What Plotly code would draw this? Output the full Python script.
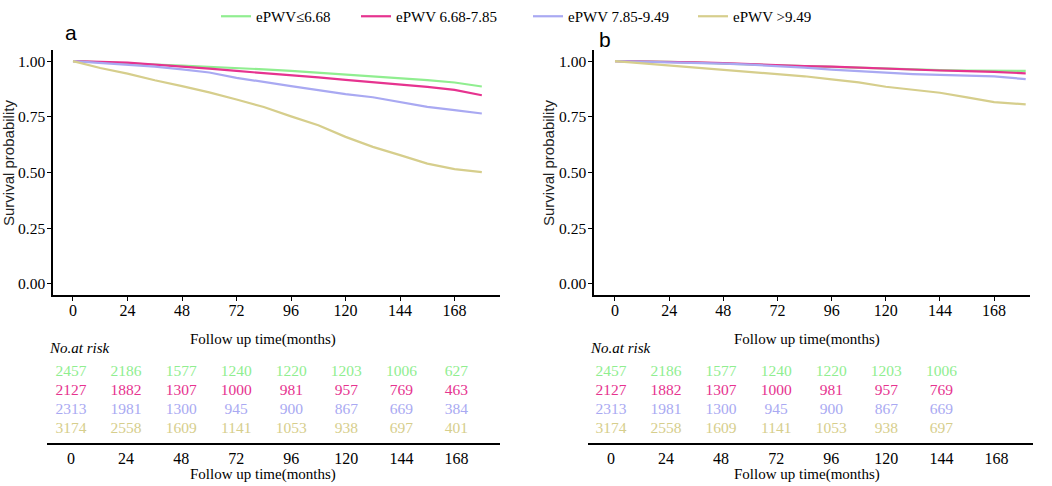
import plotly.graph_objects as go

# ---------------- data ----------------
group_names = ["ePWV≤6.68", "ePWV 6.68-7.85", "ePWV 7.85-9.49", "ePWV >9.49"]
group_colors = ["#90EE90", "#E6338F", "#A9A9F2", "#D6CE8C"]

months_a = [0, 12, 24, 36, 48, 60, 72, 84, 96, 108, 120, 132, 144, 156, 168, 180]
surv_a_g1 = [1.000, 0.996, 0.991, 0.985, 0.980, 0.975, 0.970, 0.963, 0.956, 0.948, 0.941, 0.934, 0.925, 0.915, 0.904, 0.886]
surv_a_g2 = [1.000, 0.997, 0.993, 0.984, 0.976, 0.966, 0.956, 0.947, 0.937, 0.927, 0.916, 0.906, 0.895, 0.884, 0.871, 0.847]
surv_a_g3 = [1.000, 0.992, 0.985, 0.975, 0.963, 0.949, 0.925, 0.905, 0.888, 0.870, 0.852, 0.838, 0.818, 0.795, 0.780, 0.765]
surv_a_g4 = [1.000, 0.969, 0.944, 0.914, 0.888, 0.860, 0.828, 0.794, 0.752, 0.712, 0.660, 0.615, 0.578, 0.540, 0.515, 0.502]

months_b = [0, 12, 24, 36, 48, 60, 72, 84, 96, 108, 120, 132, 144, 156, 168, 182]
surv_b_g1 = [1.000, 0.999, 0.997, 0.993, 0.990, 0.986, 0.982, 0.978, 0.974, 0.970, 0.966, 0.963, 0.960, 0.958, 0.957, 0.956]
surv_b_g2 = [1.000, 0.999, 0.997, 0.994, 0.991, 0.986, 0.982, 0.978, 0.975, 0.970, 0.966, 0.962, 0.958, 0.955, 0.952, 0.945]
surv_b_g3 = [1.000, 0.998, 0.996, 0.994, 0.989, 0.984, 0.978, 0.971, 0.962, 0.955, 0.947, 0.942, 0.938, 0.935, 0.932, 0.919]
surv_b_g4 = [1.000, 0.990, 0.980, 0.972, 0.962, 0.951, 0.942, 0.932, 0.918, 0.905, 0.885, 0.873, 0.858, 0.837, 0.816, 0.806]

risk_times_a = [0, 24, 48, 72, 96, 120, 144, 168]
risk_a_g1 = [2457, 2186, 1577, 1240, 1220, 1203, 1006, 627]
risk_a_g2 = [2127, 1882, 1307, 1000, 981, 957, 769, 463]
risk_a_g3 = [2313, 1981, 1300, 945, 900, 867, 669, 384]
risk_a_g4 = [3174, 2558, 1609, 1141, 1053, 938, 697, 401]

risk_times_b = [0, 24, 48, 72, 96, 120, 144]
risk_b_g1 = [2457, 2186, 1577, 1240, 1220, 1203, 1006]
risk_b_g2 = [2127, 1882, 1307, 1000, 981, 957, 769]
risk_b_g3 = [2313, 1981, 1300, 945, 900, 867, 669]
risk_b_g4 = [3174, 2558, 1609, 1141, 1053, 938, 697]

x_ticks = [0, 24, 48, 72, 96, 120, 144, 168]
y_ticks = [0, 0.25, 0.5, 0.75, 1.0]
y_ticktext = ["0.00", "0.25", "0.50", "0.75", "1.00"]

# ---------------- layout helpers ----------------
W, H = 1052, 486
SERIF = "Liberation Serif"
SANS = "Liberation Sans"

def px_x(p):
    return p / W

def px_y(p):
    return (H - p) / H

fig = go.Figure()

legend_ids = ["legend", "legend2", "legend3", "legend4"]
curves_a = [surv_a_g1, surv_a_g2, surv_a_g3, surv_a_g4]
curves_b = [surv_b_g1, surv_b_g2, surv_b_g3, surv_b_g4]
for i in range(4):
    fig.add_trace(go.Scatter(x=months_a, y=curves_a[i], mode="lines", name=group_names[i],
                             line=dict(color=group_colors[i], width=2.2), xaxis="x", yaxis="y",
                             legend=legend_ids[i], showlegend=True))
for i in range(4):
    fig.add_trace(go.Scatter(x=months_b, y=curves_b[i], mode="lines", name=group_names[i],
                             line=dict(color=group_colors[i], width=2.2), xaxis="x2", yaxis="y2",
                             showlegend=False))

# risk tables (rows in y3 units, 0 = bottom line)
row_levels = [71, 52, 33, 14]
risk_a = [risk_a_g1, risk_a_g2, risk_a_g3, risk_a_g4]
risk_b = [risk_b_g1, risk_b_g2, risk_b_g3, risk_b_g4]
for i in range(4):
    fig.add_trace(go.Scatter(x=risk_times_a, y=[row_levels[i]] * len(risk_times_a), mode="text",
                             text=[str(v) for v in risk_a[i]],
                             textfont=dict(family=SERIF, size=15.5, color=group_colors[i]),
                             xaxis="x3", yaxis="y3", showlegend=False, hoverinfo="skip"))
    fig.add_trace(go.Scatter(x=risk_times_b, y=[row_levels[i]] * len(risk_times_b), mode="text",
                             text=[str(v) for v in risk_b[i]],
                             textfont=dict(family=SERIF, size=15.5, color=group_colors[i]),
                             xaxis="x4", yaxis="y3", showlegend=False, hoverinfo="skip"))

def axis_style(ticks=True, standoff=0, size=16):
    d = dict(showline=True, linecolor="black", linewidth=1.5, showgrid=False, zeroline=False,
             automargin=False, tickfont=dict(family=SERIF, size=size, color="black"),
             ticklabelstandoff=standoff)
    if ticks:
        d.update(ticks="outside", ticklen=4, tickwidth=1.2, tickcolor="black")
    else:
        d.update(ticks="")
    return d

plot_dom_y = [px_y(295), px_y(50)]
table_dom_y = [px_y(443), px_y(340)]

legend_text_x = [256, 396, 568, 733]
legends = {}
for i, lid in enumerate(legend_ids):
    legends[lid] = dict(orientation="h", x=px_x(legend_text_x[i] - 40), y=1.0,
                        xanchor="left", yanchor="top",
                        font=dict(family=SERIF, size=15, color="black"),
                        bgcolor="rgba(0,0,0,0)", itemwidth=30)

fig.update_layout(
    width=W, height=H,
    margin=dict(l=0, r=0, t=0, b=0, autoexpand=False),
    paper_bgcolor="white", plot_bgcolor="white",
    font=dict(family=SERIF, color="black"),
    xaxis=dict(domain=[px_x(53), px_x(500)], range=[-8.8, 188], tickvals=x_ticks,
               anchor="y", **axis_style(standoff=-4)),
    yaxis=dict(domain=plot_dom_y, range=[-0.05, 1.05], tickvals=y_ticks, ticktext=y_ticktext,
               anchor="x", **axis_style(standoff=-1, size=15.5)),
    xaxis2=dict(domain=[px_x(594), px_x(1030)], range=[-9.3, 183.9], tickvals=x_ticks,
                anchor="y2", **axis_style(standoff=-4)),
    yaxis2=dict(domain=plot_dom_y, range=[-0.05, 1.05], tickvals=y_ticks, ticktext=y_ticktext,
                anchor="x2", **axis_style(standoff=-1, size=15.5)),
    xaxis3=dict(domain=[px_x(47), px_x(500)], range=[-10.46, 186.96], tickvals=x_ticks,
                anchor="y3", **axis_style(False)),
    xaxis4=dict(domain=[px_x(588), px_x(1033)], range=[-10.0, 183.9], tickvals=x_ticks,
                anchor="y3", **axis_style(False)),
    yaxis3=dict(domain=table_dom_y, range=[0, 103], visible=False, anchor="x3"),
    showlegend=True,
    **legends,
)

annots = [
    dict(text="a", x=px_x(71), y=px_y(32), font=dict(family=SANS, size=21, color="black")),
    dict(text="b", x=px_x(605), y=px_y(39), font=dict(family=SANS, size=21, color="black")),
    dict(text="Survival probability", x=px_x(8), y=px_y(163), textangle=-90,
         font=dict(family=SANS, size=15, color="#222")),
    dict(text="Survival probability", x=px_x(548), y=px_y(163), textangle=-90,
         font=dict(family=SANS, size=15, color="#222")),
    dict(text="Follow up time(months)", x=px_x(263), y=px_y(340),
         font=dict(family=SERIF, size=15, color="black")),
    dict(text="Follow up time(months)", x=px_x(807), y=px_y(340),
         font=dict(family=SERIF, size=15, color="black")),
    dict(text="Follow up time(months)", x=px_x(263), y=px_y(474),
         font=dict(family=SERIF, size=15, color="black")),
    dict(text="Follow up time(months)", x=px_x(807), y=px_y(474),
         font=dict(family=SERIF, size=15, color="black")),
    dict(text="<i>No.at risk</i>", x=px_x(47), y=px_y(348), xanchor="left",
         font=dict(family=SERIF, size=15, color="black")),
    dict(text="<i>No.at risk</i>", x=px_x(588), y=px_y(348), xanchor="left",
         font=dict(family=SERIF, size=15, color="black")),
]
for a in annots:
    a.setdefault("xanchor", "center")
    fig.add_annotation(xref="paper", yref="paper", yanchor="middle", showarrow=False, **a)

fig.write_html("out.html", config={"displayModeBar": False},
               post_script="document.body.style.margin='0';")
